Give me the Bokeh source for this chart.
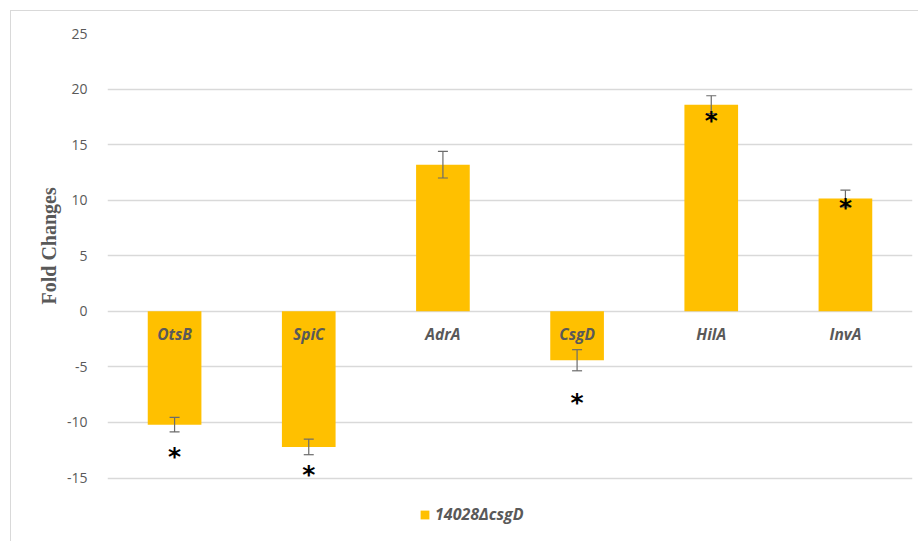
from bokeh.plotting import figure
from bokeh.models import ColumnDataSource, Legend, LegendItem, FixedTicker, Title
from bokeh.core.properties import value
from bokeh.embed import file_html
from bokeh.resources import INLINE

# Relative expression of genes in the csgD mutant
genes = ["OtsB", "SpiC", "AdrA", "CsgD", "HilA", "InvA"]
fold_change = [-10.2, -12.2, 13.2, -4.4, 18.6, 10.15]
error = [0.65, 0.7, 1.2, 0.95, 0.8, 0.75]

# Significance marks and where they sit
star_genes = ["OtsB", "SpiC", "CsgD", "HilA", "InvA"]
star_y = [-13.0, -14.6, -8.1, 17.3, 9.4]

y_ticks = [-15, -10, -5, 0, 5, 10, 15, 20, 25]
series_name = "14028\u0394csgD"

BAR = "#FFC000"
GREY = "#595959"
GRID = "#d9d9d9"
SANS = "Open Sans"

src = ColumnDataSource(dict(
    gene=genes,
    fc=fold_change,
    lo=[v - e for v, e in zip(fold_change, error)],
    hi=[v + e for v, e in zip(fold_change, error)],
))
stars = ColumnDataSource(dict(gene=star_genes, y=star_y, t=["*"] * len(star_genes)))

# the frame runs down to the chart's bottom edge so the legend sits inside it
p = figure(
    x_range=genes, y_range=(-20.8, 25),
    width=908, height=531,
    output_backend="svg", toolbar_location=None,
    min_border_left=96, min_border_right=7, min_border_top=22, min_border_bottom=0,
)
p.margin = (10, 0, 0, 10)
p.styles = {"border-left": "1px solid #d9d9d9", "border-top": "1px solid #d9d9d9"}
p.outline_line_color = None
p.background_fill_color = "white"
p.border_fill_color = "white"

# bars
bars = p.vbar(x="gene", top="fc", bottom=0, width=0.4, source=src,
              fill_color=BAR, line_color=None)

# error bars: stem plus caps
p.segment(x0="gene", y0="lo", x1="gene", y1="hi", source=src,
          line_color="#6b6b6b", line_width=1.2)
p.scatter(x="gene", y="lo", marker="dash", size=10, source=src,
          line_color="#6b6b6b", line_width=1.2)
p.scatter(x="gene", y="hi", marker="dash", size=10, source=src,
          line_color="#6b6b6b", line_width=1.2)

# gene names next to the zero line
p.text(x="gene", y=0, text="gene", source=src,
       text_font=value(SANS), text_font_size="15.5px", text_font_style="bold italic",
       text_color=GREY, text_align="center", text_baseline="middle", y_offset=23)

# significance asterisks
p.text(x="gene", y="y", text="t", source=stars,
       text_font=value("DejaVu Sans"), text_font_size="25px", text_font_style="bold",
       text_color="black", text_align="center", text_baseline="middle", y_offset=1)

# axes and grid
p.xaxis.visible = False
p.xgrid.visible = False
p.ygrid.grid_line_color = GRID
p.ygrid.grid_line_width = 1.3
p.yaxis.ticker = FixedTicker(ticks=y_ticks)
p.ygrid.ticker = FixedTicker(ticks=y_ticks)
p.yaxis.major_label_overrides = {t: str(t) for t in y_ticks}
p.yaxis.axis_line_color = None
p.yaxis.major_tick_line_color = None
p.yaxis.minor_tick_line_color = None
p.yaxis.major_label_text_font = SANS
p.yaxis.major_label_text_font_size = "14px"
p.yaxis.major_label_text_color = GREY
p.yaxis.major_label_standoff = 14

# y-axis caption, centred on the labelled part of the axis
p.add_layout(Title(text="Fold Changes", align="left", offset=238, standoff=8,
                   text_font="Liberation Serif", text_font_style="bold",
                   text_font_size="20px", text_color=GREY), "left")

legend = Legend(items=[LegendItem(label=series_name, renderers=[bars])],
                location=(312, 17), padding=0, margin=0, border_line_color=None,
                background_fill_alpha=0,
                glyph_width=11, glyph_height=11, label_standoff=5,
                label_text_font=SANS, label_text_font_size="16px",
                label_text_font_style="bold italic", label_text_color=GREY)
p.add_layout(legend, "center")

open("out.html", "w").write(file_html(p, INLINE))
